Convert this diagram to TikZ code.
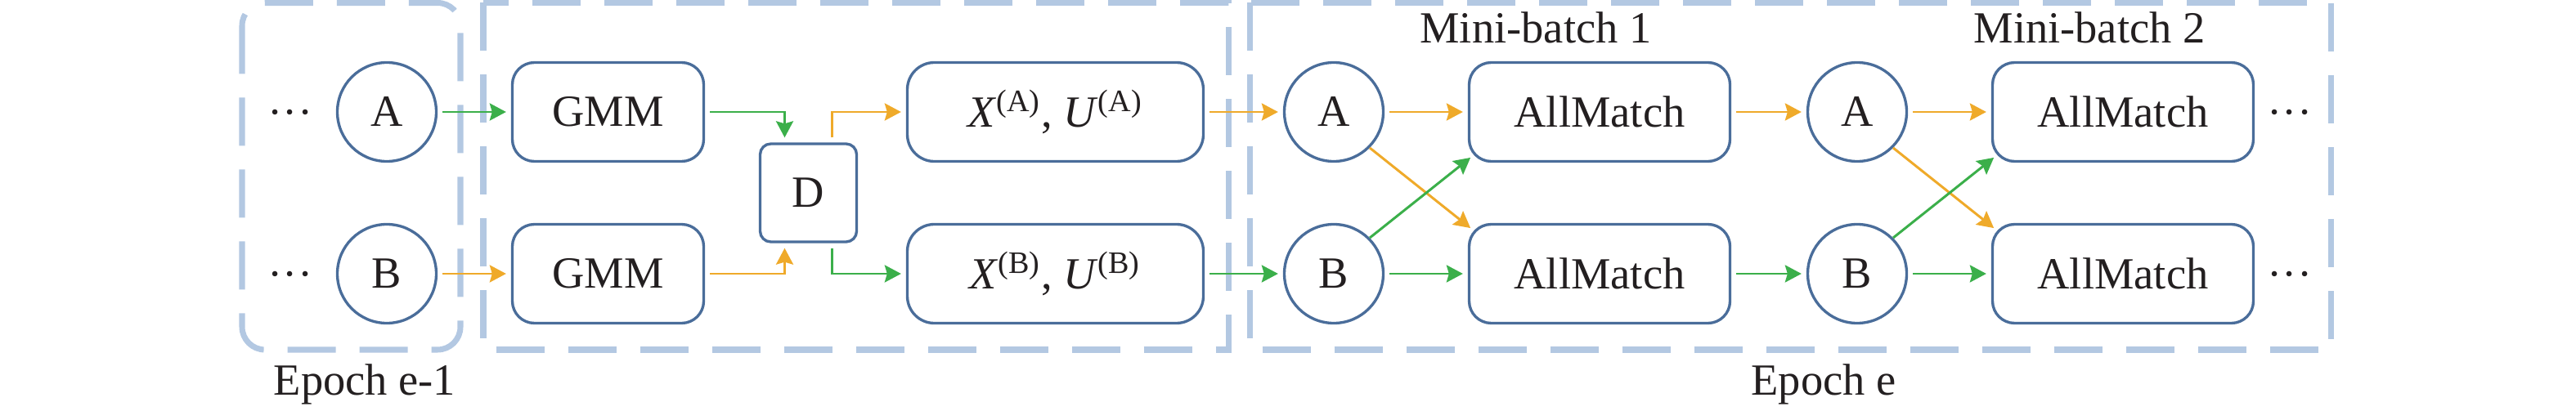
\documentclass[tikz,border=0pt]{standalone}
\usepackage{fontspec}
\setmainfont{Liberation Serif}
\usetikzlibrary{arrows.meta}
\definecolor{NodeLine}{HTML}{4A6D9A}
\definecolor{EpochDash}{HTML}{B3C8E2}
\definecolor{FlowGreen}{HTML}{3BAF4A}
\definecolor{FlowOrange}{HTML}{EFAA2A}
\definecolor{TextInk}{HTML}{231F20}
\newcommand{\setlbl}[1]{\textit{X}\textsuperscript{(#1)}, \textit{U}\textsuperscript{(#1)}}
\tikzset{
  every node/.style={font=\fontsize{15.5}{18}\selectfont,text=TextInk},
  circ/.style={draw=NodeLine,line width=0.95pt,circle,minimum size=1.21cm,inner sep=0pt},
  procbox/.style={draw=NodeLine,line width=0.95pt,rounded corners=0.27cm,
    minimum height=1.21cm,inner sep=0pt},
  epochbox/.style={draw=EpochDash,line width=2pt,dash pattern=on 0.59cm off 0.29cm},
  flowarrow/.style={line width=0.85pt,-{Stealth[length=0.2cm,width=0.21cm,inset=0.03cm]},
    shorten >=0.06cm,shorten <=0.06cm},
  gflow/.style={flowarrow,FlowGreen},
  oflow/.style={flowarrow,FlowOrange},
}

\begin{document}
\begin{tikzpicture}
  \useasboundingbox (0,0) rectangle (31.5,5.02);

  % --- epoch frames ---
  \draw[epochbox,rounded corners=0.28cm] (2.96,4.985) rectangle (5.63,0.74);
  \draw[epochbox] (5.91,4.985) rectangle (15.02,0.74);
  \draw[epochbox] (15.28,4.985) rectangle (28.50,0.74);
  \node[anchor=base] (epochprev) at (4.46,0.19) {Epoch e-1};
  \node[anchor=base] (epochcur)  at (22.30,0.19) {Epoch e};

  % --- epoch e-1: last state ---
  \node[anchor=base] (dotsa) at (3.55,3.47) {···};
  \node[anchor=base] (dotsb) at (3.55,1.49) {···};
  \node[circ] (a1) at (4.73,3.65) {A};
  \node[circ] (b1) at (4.73,1.67) {B};

  % --- co-divide ---
  \node[procbox,minimum width=2.34cm] (gmma) at (7.435,3.65) {GMM};
  \node[procbox,minimum width=2.34cm] (gmmb) at (7.435,1.67) {GMM};
  \node[procbox,rounded corners=0.13cm,minimum width=1.18cm,minimum height=1.2cm]
    (dnode) at (9.885,2.66) {D};
  \node[procbox,rounded corners=0.33cm,minimum width=3.62cm] (xa) at (12.905,3.65) {\setlbl{A}};
  \node[procbox,rounded corners=0.33cm,minimum width=3.62cm] (xb) at (12.905,1.67) {\setlbl{B}};

  % --- epoch e: mini-batches ---
  \node[circ] (a2) at (16.31,3.65) {A};
  \node[circ] (b2) at (16.31,1.67) {B};
  \node[anchor=base] (mb1) at (18.78,4.49) {Mini-batch 1};
  \node[procbox,minimum width=3.19cm] (ama1) at (19.56,3.65) {AllMatch};
  \node[procbox,minimum width=3.19cm] (amb1) at (19.56,1.67) {AllMatch};
  \node[circ] (a3) at (22.71,3.65) {A};
  \node[circ] (b3) at (22.71,1.67) {B};
  \node[anchor=base] (mb2) at (25.55,4.49) {Mini-batch 2};
  \node[procbox,minimum width=3.19cm] (ama2) at (25.96,3.65) {AllMatch};
  \node[procbox,minimum width=3.19cm] (amb2) at (25.96,1.67) {AllMatch};
  \node[anchor=base] (dotsc) at (28.00,3.47) {···};
  \node[anchor=base] (dotsd) at (28.00,1.49) {···};

  % --- flows ---
  \draw[gflow] (a1) -- (gmma);
  \draw[oflow] (b1) -- (gmmb);
  \draw[gflow] (gmma.east) -| ([xshift=-0.29cm]dnode.north);
  \draw[oflow] (gmmb.east) -| ([xshift=-0.29cm]dnode.south);
  \draw[oflow] ([xshift=0.29cm]dnode.north) |- (xa.west);
  \draw[gflow] ([xshift=0.29cm]dnode.south) |- (xb.west);
  \draw[oflow] (xa) -- (a2);
  \draw[gflow] (xb) -- (b2);

  \draw[oflow] (a2) -- (ama1);
  \draw[oflow,shorten <=0pt] (a2.south east) -- ([shift={(0.08,-0.1)}]amb1.north west);
  \draw[gflow,shorten <=0pt] (b2.north east) -- ([shift={(0.08,0.1)}]ama1.south west);
  \draw[gflow] (b2) -- (amb1);
  \draw[oflow] (ama1) -- (a3);
  \draw[gflow] (amb1) -- (b3);

  \draw[oflow] (a3) -- (ama2);
  \draw[oflow,shorten <=0pt] (a3.south east) -- ([shift={(0.08,-0.1)}]amb2.north west);
  \draw[gflow,shorten <=0pt] (b3.north east) -- ([shift={(0.08,0.1)}]ama2.south west);
  \draw[gflow] (b3) -- (amb2);
\end{tikzpicture}
\end{document}
